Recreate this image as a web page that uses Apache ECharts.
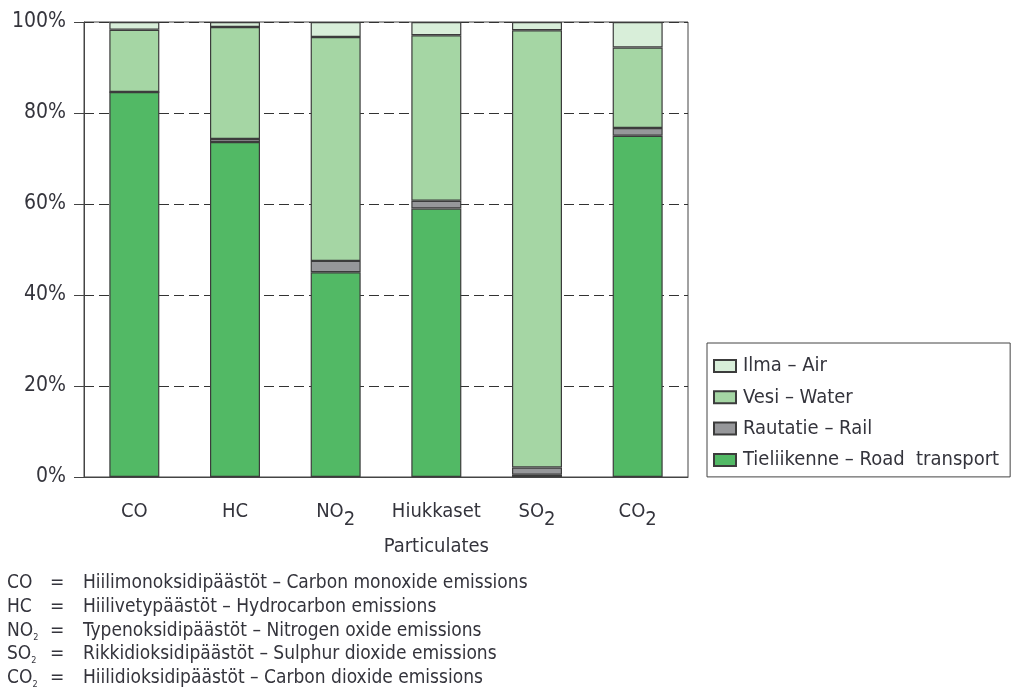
<!DOCTYPE html>
<html>
<head>
<meta charset="utf-8">
<script src="https://cdn.jsdelivr.net/npm/echarts@6/dist/echarts.min.js"></script>
<style>
  html, body { margin: 0; padding: 0; background: #fff; }
  #chart { width: 1016px; height: 689px; }
</style>
</head>
<body>
<div id="chart"></div>
<script>
// Share of emissions by transport mode (%)
const categories = ['CO', 'HC', 'NO{s|2}', 'Hiukkaset\nParticulates', 'SO{s|2}', 'CO{s|2}'];
const road  = [84.6, 73.6, 45.0, 59.0, 0.5, 75.0];
const rail  = [0.0, 0.7, 2.5, 1.7, 1.6, 1.7];
const water = [13.7, 24.6, 49.2, 36.4, 96.1, 17.7];
const air   = [1.7, 1.1, 3.3, 2.9, 1.8, 5.6];

const seriesNames = ['Tieliikenne – Road  transport', 'Rautatie – Rail', 'Vesi – Water', 'Ilma – Air'];
const seriesColors = ['#52b965', '#96979a', '#a5d6a4', '#d8eed9'];
const yTicks = [0, 20, 40, 60, 80, 100];

// Footnote rows: abbreviation, Finnish – English description
const noteAbbr = ['CO', 'HC', 'NO{s|2}', 'SO{s|2}', 'CO{s|2}'];
const noteText = [
  'Hiilimonoksidipäästöt – Carbon monoxide emissions',
  'Hiilivetypäästöt – Hydrocarbon emissions',
  'Typenoksidipäästöt – Nitrogen oxide emissions',
  'Rikkidioksidipäästöt – Sulphur dioxide emissions',
  'Hiilidioksidipäästöt – Carbon dioxide emissions'
];

const FONT = "'Liberation Sans Narrow', 'DejaVu Sans Condensed', 'Roboto', sans-serif";
const INK = '#34343c';
const EDGE = '#3c3c3c';

const chart = echarts.init(document.getElementById('chart'));

const seriesData = [road, rail, water, air];
const series = seriesNames.map((name, i) => ({
  name: name,
  type: 'bar',
  stack: 'share',
  barWidth: 50,
  data: seriesData[i],
  itemStyle: { color: seriesColors[i], borderColor: EDGE, borderWidth: 1.2 },
  emphasis: { disabled: true }
}));

const noteGraphics = [];
noteAbbr.forEach((abbr, i) => {
  const y = 585 + i * 23.6;
  noteGraphics.push({
    type: 'text', left: 7, top: y - 11,
    style: {
      text: abbr, fontFamily: FONT, fontSize: 19, fill: INK,
      rich: { s: { fontFamily: FONT, fontSize: 9, fill: INK, padding: [13, 0, 0, 0] } }
    }
  });
  noteGraphics.push({
    type: 'text', left: 50, top: y - 11,
    style: { text: '=', fontFamily: FONT, fontSize: 19, fill: INK }
  });
  noteGraphics.push({
    type: 'text', left: 83, top: y - 11,
    style: { text: noteText[i], fontFamily: FONT, fontSize: 19, fill: INK }
  });
});

chart.setOption({
  animation: false,
  backgroundColor: '#ffffff',
  textStyle: { fontFamily: FONT, color: INK },
  grid: {
    left: 84, right: 328, top: 22, bottom: 212,
    show: true, borderColor: '#444', borderWidth: 1, containLabel: false
  },
  legend: {
    orient: 'vertical',
    left: 707, top: 343,
    data: ['Ilma – Air', 'Vesi – Water', 'Rautatie – Rail', 'Tieliikenne – Road  transport'],
    icon: 'rect',
    itemWidth: 22, itemHeight: 12,
    itemGap: 9.3,
    padding: [12, 11, 6, 6],
    borderColor: '#444', borderWidth: 1, borderRadius: 0,
    backgroundColor: '#fff',
    selectedMode: false,
    textStyle: { fontFamily: FONT, fontSize: 20, color: INK, lineHeight: 22, padding: [0, 0, 0, 2] }
  },
  xAxis: {
    type: 'category',
    data: categories,
    axisLine: { show: true, lineStyle: { color: '#444', width: 1 } },
    axisTick: { show: false },
    axisLabel: {
      interval: 0,
      margin: 17,
      fontFamily: FONT, fontSize: 20, color: INK,
      lineHeight: 35,
      rich: { s: { fontFamily: FONT, fontSize: 20, color: INK, padding: [16, 0, 0, 0] } }
    }
  },
  yAxis: {
    type: 'value',
    min: 0, max: 100, interval: 20,
    axisLine: { show: true, lineStyle: { color: '#444', width: 1 } },
    axisTick: { show: true, length: 10, lineStyle: { color: '#444' } },
    axisLabel: {
      margin: 18,
      fontFamily: FONT, fontSize: 21, color: INK,
      formatter: v => (yTicks.includes(v) ? v + '%' : '')
    },
    splitLine: { show: true, lineStyle: { color: '#333', width: 1, type: [10, 5] } }
  },
  series: series,
  graphic: noteGraphics
});
</script>
</body>
</html>
